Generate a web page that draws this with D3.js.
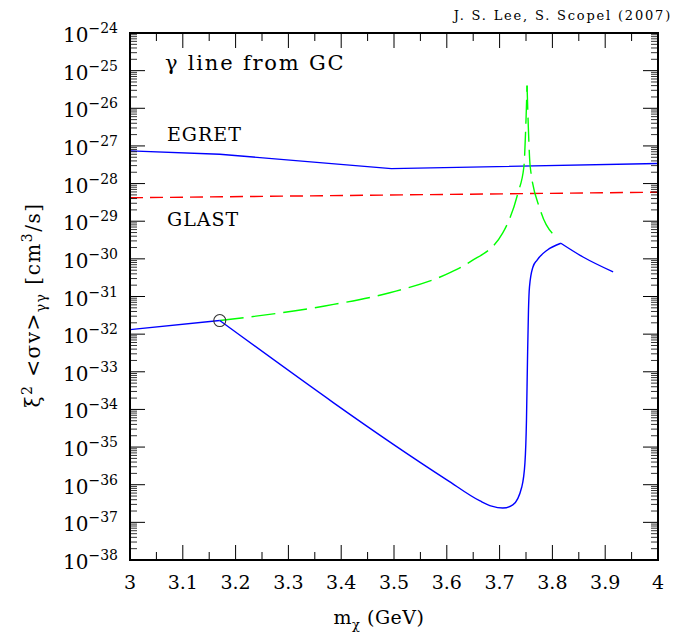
<!DOCTYPE html>
<html>
<head>
<meta charset="utf-8">
<script src="https://cdn.jsdelivr.net/npm/d3@7"></script>
<style>
  body { margin: 0; background: #fff; }
  text { font-family: "DejaVu Serif", serif; fill: #000; }
</style>
</head>
<body>
<svg id="chart" width="684" height="637"></svg>
<script>
// x ticks
var xTicks = [3, 3.1, 3.2, 3.3, 3.4, 3.5, 3.6, 3.7, 3.8, 3.9, 4];
var xTickLabels = ["3", "3.1", "3.2", "3.3", "3.4", "3.5", "3.6", "3.7", "3.8", "3.9", "4"];
// y decades (exponents)
var yExponents = [-24, -25, -26, -27, -28, -29, -30, -31, -32, -33, -34, -35, -36, -37, -38];

// EGRET limit
var egretX = [3.0, 3.17, 3.495, 4.0];
var egretY = [7.4e-28, 6.0e-28, 2.5e-28, 3.4e-28];

// GLAST sensitivity
var glastX = [3.0, 4.0];
var glastY = [4.2e-29, 5.9e-29];

// green dashed, left and right of the peak
var greenLeftX = [3.170, 3.369, 3.492, 3.606, 3.644, 3.706, 3.735, 3.746, 3.750, 3.752];
var greenLeftY = [2.3e-32, 5.6e-32, 1.26e-31, 4.3e-31, 8.3e-31, 4.9e-30, 5.8e-29, 2.8e-28, 4.9e-27, 4.0e-26];
var greenRightX = [3.752, 3.7544, 3.758, 3.777, 3.809];
var greenRightY = [4.0e-26, 3.2e-27, 2.8e-28, 2.0e-29, 3.7e-30];

// blue model curve
var blueX = [3.000, 3.170, 3.600, 3.663, 3.685, 3.706, 3.725, 3.742, 3.748, 3.7509, 3.7528, 3.7547, 3.7566,
             3.763, 3.771, 3.790, 3.816, 3.858, 3.915];
var blueY = [1.32e-32, 2.3e-32, 1.35e-36, 3.7e-37, 2.7e-37, 2.4e-37, 2.9e-37, 8.7e-37, 3.8e-36, 5.2e-35, 2.0e-33, 4.4e-32, 1.8e-31,
             6.0e-31, 9.3e-31, 1.7e-30, 2.6e-30, 1.12e-30, 4.5e-31];
var blueBreaks = [1, 16]; // sharp corners

var circleX = 3.17, circleY = 2.3e-32;

var margin = { left: 130, top: 33 };
var width = 528, height = 527;

var svg = d3.select("#chart");
var g = svg.append("g").attr("transform", "translate(" + margin.left + "," + margin.top + ")");

var x = d3.scaleLinear().domain([3, 4]).range([0, width]);
var y = d3.scaleLog().domain([1e-38, 1e-24]).range([height, 0]);

function zip(xs, ys) {
  return xs.map(function(v, i) { return [v, ys[i]]; });
}

var line = d3.line()
  .x(function(d) { return x(d[0]); })
  .y(function(d) { return y(d[1]); })
  .curve(d3.curveMonotoneX);

g.append("clipPath").attr("id", "clip")
  .append("rect").attr("width", width).attr("height", height);
var plot = g.append("g").attr("clip-path", "url(#clip)");

// EGRET
plot.append("path")
  .datum(zip(egretX, egretY))
  .attr("d", line.curve(d3.curveLinear))
  .attr("fill", "none").attr("stroke", "#0000ff").attr("stroke-width", 1.4);

// GLAST
plot.append("path")
  .datum(zip(glastX, glastY))
  .attr("d", line.curve(d3.curveLinear))
  .attr("fill", "none").attr("stroke", "#ff0000").attr("stroke-width", 1.4)
  .attr("stroke-dasharray", "13,7");

// green
[zip(greenLeftX, greenLeftY), zip(greenRightX, greenRightY)].forEach(function(pts) {
  plot.append("path")
    .datum(pts)
    .attr("d", line.curve(d3.curveMonotoneX))
    .attr("fill", "none").attr("stroke", "#00ff00").attr("stroke-width", 1.4)
    .attr("stroke-dasharray", "24,8");
});

// blue, split at the corners
var bluePts = zip(blueX, blueY);
var cuts = [0].concat(blueBreaks).concat([bluePts.length - 1]);
for (var k = 0; k < cuts.length - 1; k++) {
  plot.append("path")
    .datum(bluePts.slice(cuts[k], cuts[k + 1] + 1))
    .attr("d", line.curve(d3.curveMonotoneX))
    .attr("fill", "none").attr("stroke", "#0000ff").attr("stroke-width", 1.4);
}

plot.append("circle")
  .attr("cx", x(circleX)).attr("cy", y(circleY)).attr("r", 6)
  .attr("fill", "none").attr("stroke", "#333").attr("stroke-width", 1.1);

// frame
g.append("rect").attr("width", width).attr("height", height)
  .attr("fill", "none").attr("stroke", "#000").attr("stroke-width", 2);

// x ticks (top and bottom, inward)
var xMinor = d3.range(3.05, 4, 0.1);
xTicks.forEach(function(t) {
  g.append("line").attr("x1", x(t)).attr("x2", x(t)).attr("y1", height).attr("y2", height - 15)
    .attr("stroke", "#000").attr("stroke-width", 1);
  g.append("line").attr("x1", x(t)).attr("x2", x(t)).attr("y1", 0).attr("y2", 15)
    .attr("stroke", "#000").attr("stroke-width", 1);
});
xMinor.forEach(function(t) {
  g.append("line").attr("x1", x(t)).attr("x2", x(t)).attr("y1", height).attr("y2", height - 8)
    .attr("stroke", "#000").attr("stroke-width", 1);
  g.append("line").attr("x1", x(t)).attr("x2", x(t)).attr("y1", 0).attr("y2", 8)
    .attr("stroke", "#000").attr("stroke-width", 1);
});

// y ticks (left and right, inward)
yExponents.forEach(function(e) {
  var v = Math.pow(10, e);
  [[0, 15], [width, width - 15]].forEach(function(s) {
    g.append("line").attr("x1", s[0]).attr("x2", s[1]).attr("y1", y(v)).attr("y2", y(v))
      .attr("stroke", "#000").attr("stroke-width", 1);
  });
  if (e > -38) {
    d3.range(2, 10).forEach(function(m) {
      var mv = m * Math.pow(10, e - 1);
      [[0, 7], [width, width - 7]].forEach(function(s) {
        g.append("line").attr("x1", s[0]).attr("x2", s[1]).attr("y1", y(mv)).attr("y2", y(mv))
          .attr("stroke", "#000").attr("stroke-width", 0.8);
      });
    });
  }
});

// x tick labels
g.selectAll(".xl").data(xTicks).enter().append("text")
  .attr("x", function(d) { return x(d); })
  .attr("y", height + 29)
  .attr("text-anchor", "middle")
  .style("font-size", "19px")
  .text(function(d, i) { return xTickLabels[i]; });

// y tick labels
yExponents.forEach(function(e) {
  var t = g.append("text")
    .attr("x", -12).attr("y", y(Math.pow(10, e)) + 9)
    .attr("text-anchor", "end")
    .style("font-size", "20px");
  t.append("tspan").text("10");
  t.append("tspan").attr("dy", -9).style("font-size", "14px").text("\u2212" + Math.abs(e));
});

// axis titles
svg.append("text")
  .attr("x", margin.left + width / 2 - 15).attr("y", 624)
  .attr("text-anchor", "middle")
  .style("font-size", "19px").style("letter-spacing", "0.5px")
  .call(function(t) {
    t.append("tspan").text("m");
    t.append("tspan").attr("dy", 5).style("font-size", "13px").text("\u03c7");
    t.append("tspan").attr("dy", -5).text(" (GeV)");
  });

svg.append("text")
  .attr("transform", "translate(40,305) rotate(-90)")
  .attr("text-anchor", "middle")
  .style("font-size", "20px").style("letter-spacing", "1.5px")
  .call(function(t) {
    t.append("tspan").text("\u03be");
    t.append("tspan").attr("dy", -8).style("font-size", "14px").text("2");
    t.append("tspan").attr("dy", 8).text("  <\u03c3v>");
    t.append("tspan").attr("dy", 6).style("font-size", "14px").text("\u03b3\u03b3");
    t.append("tspan").attr("dy", -6).text("  [cm");
    t.append("tspan").attr("dy", -8).style("font-size", "14px").text("3");
    t.append("tspan").attr("dy", 8).text("/s]");
  });

// annotations
svg.append("text").attr("x", 672).attr("y", 20).attr("text-anchor", "end")
  .style("font-size", "13px").style("letter-spacing", "1.8px")
  .text("J. S. Lee, S. Scopel (2007)");
svg.append("text").attr("x", 165).attr("y", 70)
  .style("font-size", "21px").style("letter-spacing", "1.8px").text("\u03b3 line from GC");
svg.append("text").attr("x", 167).attr("y", 141)
  .style("font-size", "19px").style("letter-spacing", "1px").text("EGRET");
svg.append("text").attr("x", 167).attr("y", 226)
  .style("font-size", "19px").style("letter-spacing", "1px").text("GLAST");
</script>
</body>
</html>
